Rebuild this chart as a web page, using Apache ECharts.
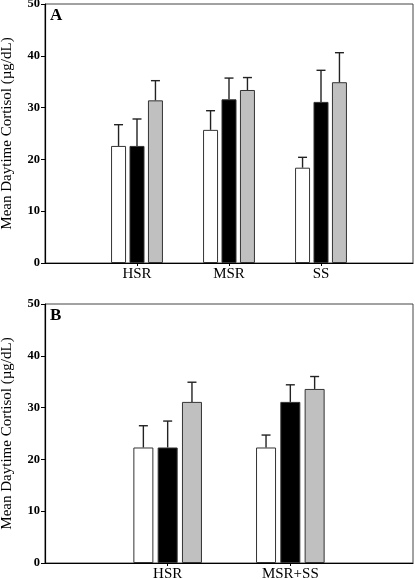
<!DOCTYPE html>
<html><head><meta charset="utf-8">
<script src="https://cdn.jsdelivr.net/npm/echarts@6/dist/echarts.min.js"></script>
<style>html,body{margin:0;padding:0;background:#fff}#c{width:415px;height:579px}</style>
</head><body><div id="c"></div>
<script>
// Panel A
const catsA = ['', 'HSR', 'MSR', 'SS', ''];
const whiteA = [null, 22.6, 25.7, 18.4, null];
const blackA = [null, 22.6, 31.6, 31.1, null];
const grayA  = [null, 31.4, 33.4, 34.9, null];
const whiteAErr = [null, 4.1, 3.7, 2.0, null];
const blackAErr = [null, 5.2, 4.1, 6.1, null];
const grayAErr  = [null, 3.8, 2.4, 5.7, null];
// Panel B
const catsB = ['', 'HSR', 'MSR+SS', ''];
const whiteB = [null, 22.3, 22.3, null];
const blackB = [null, 22.3, 31.1, null];
const grayB  = [null, 31.1, 33.6, null];
const whiteBErr = [null, 4.2, 2.4, null];
const blackBErr = [null, 5.1, 3.3, null];
const grayBErr  = [null, 3.8, 2.4, null];
const yTicks = [0, 10, 20, 30, 40, 50];
const yName = 'Mean Daytime Cortisol (µg/dL)';

const serif = 'Liberation Serif';
const fills = ['#ffffff', '#000000', '#c0c0c0'];

function errData(means, errs) {
  const out = [];
  means.forEach((m, i) => { if (m != null) out.push([i, m, errs[i]]); });
  return out;
}
function errSeries(gi, k, bw, gapFrac, means, errs) {
  const off = (k - 1) * bw * (1 + gapFrac);
  return {
    type: 'custom', xAxisIndex: gi, yAxisIndex: gi, z: 5,
    data: errData(means, errs),
    renderItem: function (params, api) {
      const i = api.value(0), m = api.value(1), e = api.value(2);
      const p0 = api.coord([i, m]);
      const p1 = api.coord([i, m + e]);
      const x = p0[0] + off;
      const st = { stroke: '#222', lineWidth: 1.4 };
      return { type: 'group', children: [
        { type: 'line', shape: { x1: x, y1: p0[1], x2: x, y2: p1[1] }, style: st },
        { type: 'line', shape: { x1: x - 4.5, y1: p1[1], x2: x + 4.5, y2: p1[1] }, style: st }
      ]};
    }
  };
}
function barSeries(gi, k, data, bw, gap) {
  return {
    type: 'bar', xAxisIndex: gi, yAxisIndex: gi, data: data,
    barWidth: bw, barGap: gap,
    itemStyle: { color: fills[k], borderColor: '#333', borderWidth: 1 }
  };
}
function xAx(gi, cats) {
  const n = cats.length;
  return {
    type: 'category', gridIndex: gi, data: cats, boundaryGap: false,
    axisLine: { lineStyle: { color: '#000', width: 1.2 } },
    axisTick: { length: 3, interval: (i) => i > 0 && i < n - 1, lineStyle: { color: '#000' } },
    axisLabel: { interval: 0, fontFamily: serif, fontSize: 15, color: '#000', margin: 4 },
    splitLine: { show: false }
  };
}
function yAx(gi) {
  return {
    type: 'value', gridIndex: gi, min: yTicks[0], max: yTicks[yTicks.length - 1], interval: 10,
    name: yName, nameLocation: 'middle', nameGap: 30, nameRotate: 90,
    nameTextStyle: { fontFamily: serif, fontSize: 15, color: '#000' },
    axisLine: { show: true, lineStyle: { color: '#000', width: 1.2 } },
    axisTick: { show: true, length: 4, lineStyle: { color: '#000' } },
    axisLabel: { fontFamily: serif, fontSize: 12.5, fontWeight: 'bold', color: '#000', margin: 5 },
    splitLine: { show: false }
  };
}

const chart = echarts.init(document.getElementById('c'), null, { renderer: 'canvas' });
chart.setOption({
  animation: false,
  backgroundColor: '#fff',
  title: [
    { text: 'A', left: 50, top: 7, padding: 0, textStyle: { fontFamily: serif, fontWeight: 'bold', fontSize: 17, color: '#000' } },
    { text: 'B', left: 50, top: 307, padding: 0, textStyle: { fontFamily: serif, fontWeight: 'bold', fontSize: 17, color: '#000' } }
  ],
  grid: [
    { left: 45, right: 2, top: 4, bottom: 316, containLabel: false, outerBoundsMode: 'none', show: true, borderColor: '#444', borderWidth: 1, backgroundColor: 'transparent' },
    { left: 45, right: 2, top: 304, bottom: 16, containLabel: false, outerBoundsMode: 'none', show: true, borderColor: '#444', borderWidth: 1, backgroundColor: 'transparent' }
  ],
  xAxis: [xAx(0, catsA), xAx(1, catsB)],
  yAxis: [yAx(0), yAx(1)],
  series: [
    barSeries(0, 0, whiteA, 15, '23%'),
    barSeries(0, 1, blackA, 15, '23%'),
    barSeries(0, 2, grayA, 15, '23%'),
    errSeries(0, 0, 15, 0.23, whiteA, whiteAErr),
    errSeries(0, 1, 15, 0.23, blackA, blackAErr),
    errSeries(0, 2, 15, 0.23, grayA, grayAErr),
    barSeries(1, 0, whiteB, 20, '21.5%'),
    barSeries(1, 1, blackB, 20, '21.5%'),
    barSeries(1, 2, grayB, 20, '21.5%'),
    errSeries(1, 0, 20, 0.215, whiteB, whiteBErr),
    errSeries(1, 1, 20, 0.215, blackB, blackBErr),
    errSeries(1, 2, 20, 0.215, grayB, grayBErr)
  ]
});
</script></body></html>
